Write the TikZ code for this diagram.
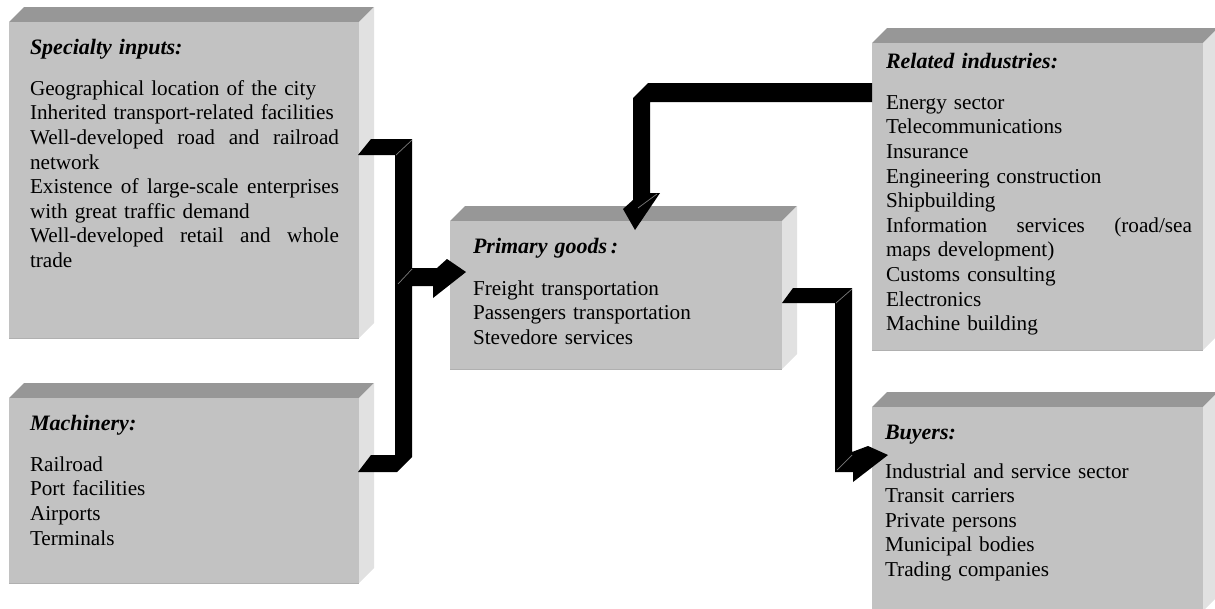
\documentclass[tikz,border=0pt]{standalone}
\usepackage{fontspec}
\setmainfont{Liberation Serif}
\definecolor{frontgray}{HTML}{C2C2C2}
\definecolor{topgray}{HTML}{979797}
\definecolor{sidegray}{HTML}{E1E1E1}
\definecolor{edgegray}{HTML}{B0B0B0}
\definecolor{bevelgray}{HTML}{7A7A7A}
\tikzset{
  frontface/.style={fill=frontgray, draw=none, inner sep=0pt, outer sep=0pt},
  txt/.style={inner sep=0pt, outer sep=0pt, align=left, text width=330pt,
    font=\fontsize{21.2}{24.6}\selectfont},
  bigarrow/.style={fill=black, draw=none},
  bevelline/.style={draw=bevelgray, line width=0.7pt},
}
\newcommand\tdbox[5]{%
  \fill[topgray] (#2,#3) -- (#2+15,#3-15) -- (#4+15,#3-15) -- (#4,#3) -- cycle;
  \fill[sidegray] (#4,#3) -- (#4+15,#3-15) -- (#4+15,#5-15) -- (#4,#5) -- cycle;
  \node[frontface, anchor=north west, minimum width={(#4-#2)*1pt},
        minimum height={(#5-#3)*1pt}] (#1) at (#2,#3) {};
  \draw[edgegray, line width=0.8pt] (#1.south west) -- (#1.south east);
}
\newcommand\ttl[1]{\rule{0pt}{15pt}{\fontsize{22}{24.6}\selectfont\textbf{\textit{#1}}}}
\newcommand\jline[2]{\leavevmode\hbox to #1{#2}}
\begin{document}
\begin{tikzpicture}[x=1pt,y=-1pt]
\useasboundingbox (0,0) rectangle (1215,608);
\clip (0,0) rectangle (1215,608);

% boxes
\tdbox{spec}{9}{22}{359}{338}
\tdbox{mach}{9}{398}{359}{583}
\tdbox{prim}{450}{221}{782}{369}
\tdbox{rel}{872}{43}{1203}{350}
\tdbox{buy}{872}{407}{1203}{611}

% texts
\node[txt, anchor=north west] (specT) at (30,39) {\ttl{Specialty inputs:}\\[16.4pt]
Geographical location of the city\\
Inherited transport-related facilities\\
\jline{309pt}{Well-developed\hfill road\hfill and\hfill railroad}\\
network\\
\jline{309pt}{Existence\hfill of\hfill large-scale\hfill enterprises}\\
with great traffic demand\\
\jline{309pt}{Well-developed\hfill retail\hfill and\hfill whole}\\
trade};

\node[txt, anchor=north west] (machT) at (30,415) {\ttl{Machinery:}\\[16.4pt]
Railroad\\
Port facilities\\
Airports\\
Terminals};

\node[txt, anchor=north west] (primT) at (473,238) {\ttl{Primary goods\,:}\\[17.4pt]
Freight transportation\\
Passengers transportation\\
Stevedore services};

\node[txt, anchor=north west] (relT) at (886,53) {\ttl{Related industries:}\\[16.4pt]
Energy sector\\
Telecommunications\\
Insurance\\
Engineering construction\\
Shipbuilding\\
\jline{306pt}{Information\hfill services\hfill (road/sea}\\
maps development)\\
Customs consulting\\
Electronics\\
Machine building};

\node[txt, anchor=north west] (buyT) at (885,424) {\ttl{Buyers:}\\[14.4pt]
Industrial and service sector\\
Transit carriers\\
Private persons\\
Municipal bodies\\
Trading companies};

% bracket from specialty inputs and machinery to primary goods
\fill[bigarrow] (358,155) -- (371,139) -- (412,139) -- (412,268) -- (437,268)
  -- (447,259) -- (466,272) -- (433,298) -- (433,286) -- (412,286)
  -- (412,457) -- (397,472) -- (358,472) -- (371,455) -- (395,455)
  -- (395,155) -- cycle;
\draw[bevelline] (412,140) -- (396,155);
\draw[bevelline] (412,269) -- (398,284);

% related industries to primary goods
\fill[bigarrow] (rel.west |- 0,83) -- (648,83) -- (633,98) -- (633,200)
  -- (623,209) -- (635,230) -- (660,193) -- (650,193) -- (650,102)
  -- (rel.west |- 0,102) -- cycle;
\draw[bevelline] (638,208) -- (657,194);

% primary goods to buyers
\fill[bigarrow] (prim.east |- 0,303) -- (793,288) -- (852,288) -- (852,452)
  -- (868,446) -- (888,455) -- (853,482) -- (853,472) -- (835,472)
  -- (835,303) -- cycle;
\draw[bevelline] (852,289) -- (836,303);
\draw[bevelline] (852,455) -- (837,470);
\end{tikzpicture}
\end{document}
